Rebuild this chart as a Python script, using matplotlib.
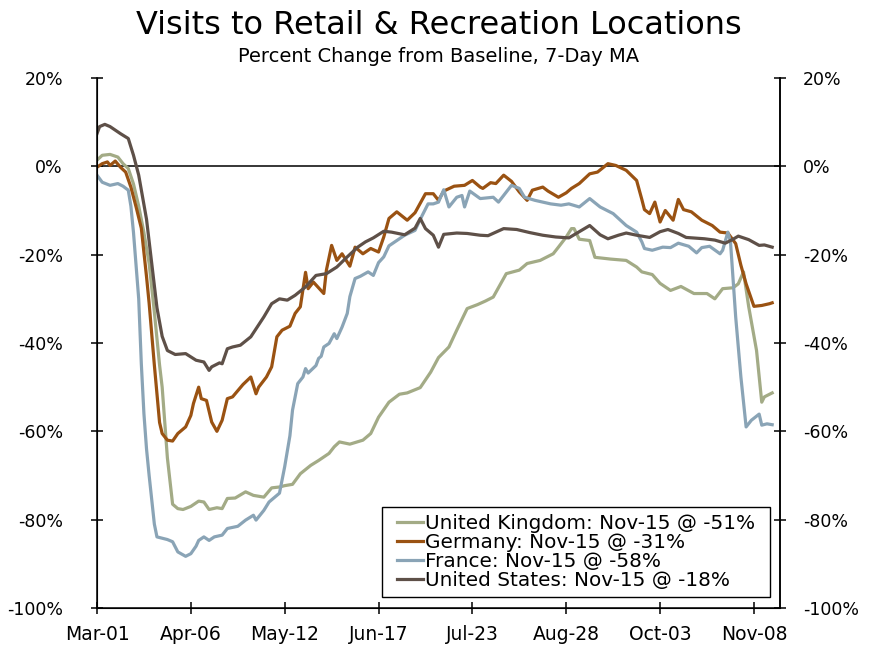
import numpy as np
import matplotlib
matplotlib.use('Agg')
import matplotlib.pyplot as plt
import matplotlib.dates as mdates
from matplotlib.patches import Rectangle

# Datos (días desde el 1 de marzo de 2020, % de cambio)
base = np.datetime64('2020-03-01')

uk_days = [0, 2, 5, 8, 10, 12, 14, 16, 18, 20, 22, 24, 25, 26, 27, 29, 31, 33, 36, 39, 41, 43,
           46, 48, 50, 53, 57, 60, 64, 67, 70, 72, 75, 78, 82, 85, 89, 91, 93, 97, 102, 105, 108,
           112, 116, 119, 124, 128, 131, 135, 138, 142, 146, 149, 152, 157, 162, 165, 170, 175,
           177, 180, 182, 183, 185, 189, 191, 197, 203, 207, 209, 213, 216, 219, 220, 224, 229,
           234, 237, 240, 244, 246, 248, 250, 253, 255, 256, 259]
uk_vals = [1.4, 2.5, 2.7, 2.1, 0.6, -0.5, -4, -9, -15, -22, -33, -45, -50, -58, -66, -76.5,
           -77.5, -77.7, -77, -75.8, -76, -77.7, -77.3, -77.5, -75.2, -75.1, -73.7, -74.5, -74.9,
           -72.8, -72.6, -72.3, -72, -69.6, -67.7, -66.6, -65, -63.5, -62.4, -62.9, -62, -60.5,
           -56.8, -53.4, -51.6, -51.3, -50.1, -46.6, -43.3, -40.9, -37.1, -32.2, -31.3, -30.5,
           -29.6, -24.3, -23.5, -22, -21.3, -19.8, -18.3, -16, -14.1, -14.1, -16.5, -16.8, -20.6,
           -21, -21.3, -22.8, -23.9, -24.5, -26.5, -27.7, -28.1, -27.2, -28.8, -28.8, -30, -27.7,
           -27.5, -26.6, -23.9, -31.8, -41.7, -53.4, -52.2, -51.3]

de_days = [0, 2, 4, 5, 7, 9, 11, 13, 15, 17, 19, 20, 22, 24, 25, 27, 29, 31, 34, 36, 37, 39, 40,
           42, 44, 46, 48, 50, 52, 56, 59, 61, 62, 65, 67, 69, 71, 74, 76, 78, 80, 81, 83, 87, 88,
           90, 92, 94, 97, 99, 102, 105, 108, 110, 112, 115, 119, 122, 126, 129, 131, 133, 137,
           141, 144, 147, 148, 151, 153, 156, 159, 162, 165, 167, 171, 173, 177, 180, 182, 185,
           189, 192, 196, 199, 203, 207, 209, 210, 212, 214, 216, 218, 221, 223, 225, 228, 232,
           236, 239, 242, 245, 247, 249, 252, 255, 258, 259]
de_vals = [-0.2, 0.6, 1.0, 0.2, 1.2, -0.2, -1.3, -4.7, -9.2, -14, -25, -31, -45, -58, -60.5,
           -62, -62.2, -60.5, -59, -56.4, -53.7, -50, -52.6, -53, -57.9, -60, -57.5, -52.6, -52.2,
           -49.4, -47.7, -51.5, -50, -47.7, -45.4, -38.6, -37.1, -36.2, -33.3, -31.8, -24,
           -27.7, -26.2, -28.8, -23.5, -17.9, -21.3, -19.8, -22.6, -18.3, -19.8, -18.6, -19.4,
           -16, -11.8, -10.3, -12.2, -10.5, -6.2, -6.2, -7.7, -5.6, -4.5, -4.3, -3.2, -4.7, -5.0,
           -3.7, -3.9, -2.0, -3.4, -5.8, -7.7, -5.4, -4.7, -5.6, -7.0, -6.0, -5.0, -3.9, -1.7,
           -1.3, 0.6, 0.2, -0.9, -3.2, -7.5, -9.8, -10.7, -8.1, -12.6, -10.0, -12.2, -7.5, -9.8,
           -10.3, -12.2, -13.4, -14.9, -15.1, -17.5, -22.4, -26.6, -31.7, -31.5, -31.1, -30.9]

fr_days = [0, 2, 5, 8, 10, 12, 13, 14, 16, 17, 18, 19, 20, 22, 23, 27, 29, 31, 34, 36, 38, 39,
           41, 43, 45, 48, 50, 54, 57, 60, 61, 64, 66, 69, 70, 72, 74, 75, 77, 79, 80, 81, 84, 85,
           86, 87, 89, 91, 92, 94, 96, 97, 99, 101, 104, 106, 108, 110, 112, 115, 118, 122, 124,
           127, 129, 131, 133, 135, 138, 140, 141, 143, 147, 152, 154, 159, 162, 164, 168, 171,
           174, 178, 181, 185, 189, 193, 198, 203, 207, 209, 210, 213, 217, 220, 223, 227, 230,
           232, 235, 239, 240, 242, 243, 245, 247, 249, 251, 254, 255, 257, 259]
fr_vals = [-2.0, -3.6, -4.3, -3.9, -4.5, -5.4, -9, -15, -30, -44.7, -56, -64, -70, -81, -83.9,
           -84.5, -85, -87.3, -88.3, -87.7, -86, -84.7, -83.9, -84.7, -83.9, -83.5, -82, -81.5,
           -80.1, -79, -80.1, -77.9, -76, -74.5, -74, -68, -61, -55.2, -49.2, -47.7, -45.8,
           -46.8, -45.1, -43.5, -43, -40.9, -40.1, -37.9, -39, -36.4, -33.3, -29.5, -25.4, -24.9,
           -23.9, -24.7, -21.8, -20.5, -18, -16.8, -15.6, -14.5, -12, -8.5, -8.5, -8.1, -5.3,
           -9.2, -7.0, -6.6, -9.2, -5.6, -7.3, -7.0, -8.1, -4.3, -5.0, -7.0, -7.7, -8.1, -8.5,
           -8.8, -8.5, -9.2, -7.3, -9.2, -10.7, -13.4, -14.9, -17.1, -18.6, -19.0, -18.3, -18.4,
           -17.4, -18.1, -19.6, -18.4, -18.1, -19.8, -19.0, -14.9, -17, -34.1, -47.7, -59.0,
           -57.5, -56.1, -58.6, -58.3, -58.5]

us_days = [0, 1, 3, 5, 7, 9, 12, 14, 16, 19, 21, 23, 25, 27, 30, 34, 38, 41, 43, 44, 47, 48, 50,
           52, 55, 59, 64, 67, 70, 73, 76, 80, 84, 88, 92, 96, 100, 103, 106, 110, 113, 118, 122,
           124, 126, 129, 131, 133, 138, 142, 147, 150, 156, 161, 166, 171, 176, 181, 185, 189,
           193, 196, 200, 203, 207, 212, 216, 219, 223, 226, 233, 237, 241, 244, 246, 250, 254,
           256, 259]
us_vals = [7.4, 9.0, 9.5, 9.0, 8.2, 7.4, 6.3, 2.5, -2, -12, -22, -32, -38.5, -41.7, -42.6,
           -42.4, -43.9, -44.3, -46.2, -45.4, -44.5, -44.7, -41.3, -40.9, -40.5, -38.6, -34.1,
           -31.1, -30.0, -30.3, -29.2, -27.3, -24.7, -24.3, -22.8, -20.5, -18.3, -17.1, -16.2,
           -14.7, -14.9, -15.5, -14.0, -11.8, -14.1, -15.6, -18.3, -15.4, -15.1, -15.2, -15.6,
           -15.7, -14.1, -14.3, -15.0, -15.6, -16.0, -16.2, -14.8, -13.4, -15.5, -16.4, -15.6,
           -15.1, -15.6, -16.1, -14.8, -14.3, -15.2, -16.1, -16.4, -16.7, -17.4, -16.5, -15.8,
           -16.6, -17.9, -17.8, -18.3]

series = [
    ('United Kingdom: Nov-15 @ -51%', uk_days, uk_vals, '#a3ab86'),
    ('Germany: Nov-15 @ -31%', de_days, de_vals, '#9a5212'),
    ('France: Nov-15 @ -58%', fr_days, fr_vals, '#8aa4b6'),
    ('United States: Nov-15 @ -18%', us_days, us_vals, '#5e5048'),
]

y_ticks = [20, 0, -20, -40, -60, -80, -100]
x_tick_days = [0, 36, 72, 108, 144, 180, 216, 252]

plt.rcParams['font.family'] = ['DejaVu Sans']

fig = plt.figure(figsize=(8.77, 6.46), dpi=100)
ax = fig.add_axes([97 / 877, 1 - 608 / 646, 683 / 877, 530 / 646])

for nombre, d, v, c in series:
    x = base + np.array(d).astype('timedelta64[D]')
    ax.plot(x, v, color=c, lw=2.3, label=nombre)

ax.axhline(0, color='black', lw=1.1, zorder=1)

ax.set_ylim(-100, 20)
ax.set_xlim(base, base + np.timedelta64(262, 'D'))
ax.set_yticks(y_ticks)
ax.set_yticklabels([f'{t}%' for t in y_ticks])
ax.set_xticks(base + np.array(x_tick_days).astype('timedelta64[D]'))
ax.xaxis.set_major_formatter(mdates.DateFormatter('%b-%d'))

ax.spines['top'].set_visible(False)
for s in ['left', 'right', 'bottom']:
    ax.spines[s].set_linewidth(1.1)
ax.tick_params(axis='both', direction='inout', length=9, width=1.1)
ax.tick_params(axis='y', pad=20, labelsize=12.5)
ax.tick_params(axis='x', pad=8, labelsize=13.5)

# eje derecho con las mismas etiquetas
ax2 = ax.twinx()
ax2.set_ylim(-100, 20)
ax2.set_yticks(y_ticks)
ax2.set_yticklabels([f'{t}%' for t in y_ticks])
ax2.spines['top'].set_visible(False)
ax2.spines['right'].set_linewidth(1.1)
ax2.tick_params(axis='y', direction='inout', length=9, width=1.1, labelsize=12.5, pad=12)

# leyenda sin marco; el marco se dibuja aparte con más margen a los lados
extra = 8
leg = ax.legend(loc='lower right', bbox_to_anchor=(0.986 - extra / 683, 0.02), fontsize=14.4,
                frameon=False, handlelength=1.3, handletextpad=0.1, labelspacing=0.0,
                borderpad=0.35, borderaxespad=0)

fig.text(0.5, 1 - 25 / 646, 'Visits to Retail & Recreation Locations', ha='center', va='center',
         fontsize=23)
fig.text(0.5, 1 - 57 / 646, 'Percent Change from Baseline, 7-Day MA', ha='center', va='center',
         fontsize=14)

fig.canvas.draw()
bb = leg.get_window_extent(fig.canvas.get_renderer())
marco = Rectangle(((bb.x0 - extra) / 877, bb.y0 / 646), (bb.width + 2 * extra) / 877,
                  bb.height / 646, transform=fig.transFigure, facecolor='white',
                  edgecolor='black', lw=1.0, zorder=4)
ax.add_artist(marco)
marco.set_clip_on(False)
leg.set_zorder(5)

fig.savefig('out.png', dpi=100)
